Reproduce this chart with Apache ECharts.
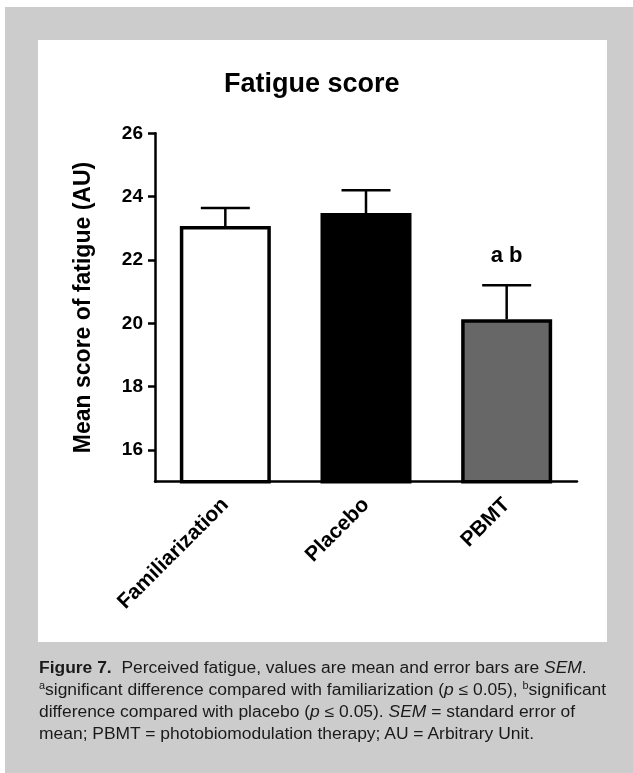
<!DOCTYPE html>
<html>
<head>
<meta charset="utf-8">
<script src="https://cdn.jsdelivr.net/npm/echarts@6/dist/echarts.min.js"></script>
<style>
  html, body { margin: 0; padding: 0; width: 633px; height: 773px; background: #ffffff; overflow: hidden; }
  #bg { position: absolute; left: 5px; top: 7px; width: 628px; height: 766px; background: #cccccc; }
  #panel { position: absolute; left: 38px; top: 40px; width: 569px; height: 602px; background: #ffffff; }
  #chart { position: absolute; left: 0; top: 0; width: 633px; height: 773px; }
  #cap { position: absolute; left: 39px; top: 657px; font-family: 'Liberation Sans', Arial, sans-serif; font-size: 16px; line-height: 22px; color: #1a1a1a; white-space: nowrap; transform-origin: 0 0; transform: scaleX(1.09); }
  #cap sup { font-size: 10px; vertical-align: 6px; line-height: 0; }
</style>
</head>
<body>
<div id="bg"></div>
<div id="panel"></div>
<div id="chart"></div>
<div id="cap"><b>Figure 7.</b>&nbsp; Perceived fatigue, values are mean and error bars are <i>SEM</i>.<br><sup>a</sup>significant difference compared with familiarization (<i>p</i> ≤ 0.05), <sup>b</sup>significant<br>difference compared with placebo (<i>p</i> ≤ 0.05). <i>SEM</i> = standard error of<br>mean; PBMT = photobiomodulation therapy; AU = Arbitrary Unit.</div>
<script>
const categories = ['Familiarization', 'Placebo', 'PBMT'];
const meanValues = [23.07, 23.48, 20.13];
const semValues = [0.57, 0.72, 1.07];
const barColors = ['#ffffff', '#000000', '#676767'];
const annotations = ['', '', 'a b'];
const yTickValues = [16, 18, 20, 22, 24, 26];

const chart = echarts.init(document.getElementById('chart'), null, { renderer: 'canvas' });
const FONT = "'Liberation Sans', Arial, Helvetica, sans-serif";

const errData = categories.map((c, i) => [i, meanValues[i], semValues[i], annotations[i]]);

const option = {
  backgroundColor: 'transparent',
  animation: false,
  title: {
    text: 'Fatigue score',
    left: 219,
    top: 66,
    textStyle: { fontFamily: FONT, fontSize: 27, fontWeight: 'bold', color: '#000' }
  },
  grid: { left: 155, right: 56, top: 133.3, bottom: 291.3, containLabel: false },
  xAxis: {
    type: 'category',
    data: categories,
    axisLine: { lineStyle: { color: '#000', width: 2.5 } },
    axisTick: { alignWithLabel: true, length: 7, lineStyle: { color: '#000', width: 2.5 } },
    axisLabel: { rotate: 45, margin: 20, fontFamily: FONT, fontSize: 21, fontWeight: 'bold', color: '#000', interval: 0 }
  },
  yAxis: {
    type: 'value',
    min: 15,
    max: 26,
    name: 'Mean score of fatigue (AU)',
    nameLocation: 'middle',
    nameRotate: 90,
    nameGap: 60,
    nameTextStyle: { fontFamily: FONT, fontSize: 23, fontWeight: 'bold', color: '#000' },
    splitLine: { show: false },
    axisLine: { show: true, lineStyle: { color: '#000', width: 2.5 } },
    axisTick: { show: true, length: 7, customValues: yTickValues, lineStyle: { color: '#000', width: 2.5 } },
    axisLabel: { customValues: yTickValues, margin: 12, fontFamily: FONT, fontSize: 19, fontWeight: 'bold', color: '#000' }
  },
  series: [
    {
      type: 'bar',
      barWidth: 91,
      data: meanValues.map((v, i) => ({ value: v, itemStyle: { color: barColors[i] } })),
      itemStyle: { borderColor: '#000', borderWidth: 3.5 },
      z: 2
    },
    {
      type: 'custom',
      data: errData,
      z: 3,
      renderItem: function (params, api) {
        const x = api.value(0);
        const m = api.value(1);
        const s = api.value(2);
        const note = errData[params.dataIndex][3];
        const p0 = api.coord([x, m]);
        const p1 = api.coord([x, m + s]);
        const hw = 24.5;
        const children = [
          { type: 'line', shape: { x1: p0[0], y1: p0[1], x2: p1[0], y2: p1[1] }, style: { stroke: '#000', lineWidth: 2.5 } },
          { type: 'line', shape: { x1: p1[0] - hw, y1: p1[1], x2: p1[0] + hw, y2: p1[1] }, style: { stroke: '#000', lineWidth: 2.5 } }
        ];
        if (note) {
          children.push({
            type: 'text',
            style: { x: p1[0], y: p1[1] - 29, text: note, align: 'center', verticalAlign: 'middle', font: "bold 22px 'Liberation Sans', Arial, sans-serif", fill: '#000' }
          });
        }
        return { type: 'group', children: children };
      }
    }
  ]
};
chart.setOption(option);
</script>
</body>
</html>
